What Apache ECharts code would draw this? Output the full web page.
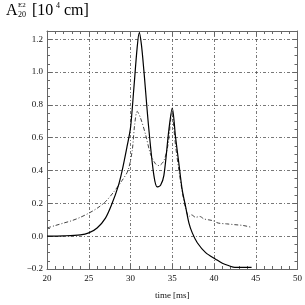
<!DOCTYPE html>
<html><head><meta charset="utf-8">
<script src="https://cdn.jsdelivr.net/npm/echarts@6/dist/echarts.min.js"></script>
<style>html,body{margin:0;padding:0;background:#fff}#c{width:305px;height:305px}</style>
</head><body><div id="c"></div>
<script>
var xTicks = [20, 25, 30, 35, 40, 45, 50];
var yTicks = [-0.2, 0.0, 0.2, 0.4, 0.6, 0.8, 1.0, 1.2];
var solidTime  = [20, 22, 24, 25, 26, 27, 27.8, 28.5, 29, 29.6, 30.0, 30.4, 30.8, 31.05, 31.3, 31.6, 32.2, 32.8, 33.2, 33.6, 34.0, 34.6, 35.0, 35.4, 35.8, 36.2, 36.6, 37.0, 37.4, 38.0, 39.0, 40.2, 41.0, 41.8, 42.5, 44.5];
var solidValue = [0.0, 0.002, 0.008, 0.02, 0.05, 0.11, 0.2, 0.3, 0.4, 0.55, 0.66, 0.9, 1.15, 1.24, 1.17, 1.01, 0.65, 0.37, 0.30, 0.31, 0.37, 0.65, 0.78, 0.6, 0.44, 0.28, 0.18, 0.08, 0.02, -0.04, -0.1, -0.14, -0.165, -0.18, -0.19, -0.19];
var dashTime  = [20, 21, 22, 23, 24, 25, 26, 27, 28, 29, 29.7, 30.2, 30.5, 30.8, 31.2, 31.8, 32.4, 33.0, 33.4, 34.0, 34.5, 34.95, 35.4, 35.8, 36.2, 36.6, 37.0, 37.3, 37.8, 38.3, 38.8, 39.3, 39.8, 40.5, 41.5, 42.5, 43.5, 44.4];
var dashValue = [0.05, 0.065, 0.08, 0.095, 0.115, 0.14, 0.17, 0.21, 0.27, 0.34, 0.4, 0.52, 0.68, 0.76, 0.72, 0.62, 0.5, 0.44, 0.43, 0.46, 0.56, 0.75, 0.55, 0.4, 0.27, 0.17, 0.12, 0.13, 0.115, 0.12, 0.105, 0.1, 0.095, 0.08, 0.075, 0.07, 0.065, 0.055];

function pairs(xs, ys){ return xs.map(function(x,i){ return [x, ys[i]]; }); }
var FONT = 'Liberation Serif';
var axisCol = '#666';
var chart = echarts.init(document.getElementById('c'), null, {renderer:'canvas'});
function fmtY(v){
  for (var i=0;i<yTicks.length;i++){ if (Math.abs(yTicks[i]-v)<1e-6){ return (v<0?'\u22120.':(v<1?'0.':'1.')) + (Math.round(Math.abs(v)*10)%10); } }
  return '';
}
var xBase = {
  type:'value', min:20, max:50, interval:5,
  axisLine:{show:true, onZero:false, lineStyle:{color:axisCol, width:1}},
  axisTick:{show:true, inside:true, length:5, lineStyle:{color:axisCol}},
  minorTick:{show:true, splitNumber:5, length:3, lineStyle:{color:axisCol}},
  splitLine:{show:false}
};
var yBase = {
  type:'value', min:-0.2, max:1.25, interval:0.2,
  axisLine:{show:true, onZero:false, lineStyle:{color:axisCol, width:1}},
  axisTick:{show:true, inside:true, length:5, lineStyle:{color:axisCol}},
  minorTick:{show:true, splitNumber:4, length:3, lineStyle:{color:axisCol}},
  splitLine:{show:false}
};
var option = {
  animation:false,
  backgroundColor:'#fff',
  grid:{left:47, right:7, top:31, bottom:31, containLabel:false},
  xAxis:[
    Object.assign({}, xBase, {position:'bottom',
      name:'time [ms]', nameLocation:'middle', nameGap:22,
      nameTextStyle:{fontFamily:FONT, fontSize:9, color:'#111'},
      axisLabel:{fontFamily:FONT, fontSize:9, color:'#111', margin:5, showMaxLabel:true},
      splitLine:{show:true, lineStyle:{color:'#555', width:0.8, type:[3,2,1,2]}}}),
    Object.assign({}, xBase, {position:'top', axisLabel:{show:false}})
  ],
  yAxis:[
    Object.assign({}, yBase, {position:'left',
      axisLabel:{fontFamily:FONT, fontSize:9, color:'#111', margin:4, formatter:fmtY},
      splitLine:{show:true, lineStyle:{color:'#555', width:0.8, type:[3,2,1,2]}}}),
    Object.assign({}, yBase, {position:'right', axisLabel:{show:false}})
  ],
  graphic:[
    {type:'text', left:6, top:3, style:{text:'A', font:'16px "Liberation Serif"', fill:'#000'}},
    {type:'text', left:18, top:2, style:{text:'E2', font:'7px "Liberation Serif"', fill:'#000'}},
    {type:'text', left:18, top:11, style:{text:'20', font:'8px "Liberation Serif"', fill:'#000'}},
    {type:'text', left:32, top:3, style:{text:'[10', font:'16px "Liberation Serif"', fill:'#000'}},
    {type:'text', left:56, top:2, style:{text:'4', font:'8px "Liberation Serif"', fill:'#000'}},
    {type:'text', left:64, top:3, style:{text:'cm]', font:'16px "Liberation Serif"', fill:'#000'}}
  ],
  series:[
    {type:'line', data:pairs(dashTime, dashValue), showSymbol:false, smooth:0.3,
     lineStyle:{color:'#444', width:1, type:[4,2,1,2]}},
    {type:'line', data:pairs(solidTime, solidValue), showSymbol:false, smooth:0.3,
     lineStyle:{color:'#000', width:1.2}}
  ]
};
chart.setOption(option);
</script></body></html>
